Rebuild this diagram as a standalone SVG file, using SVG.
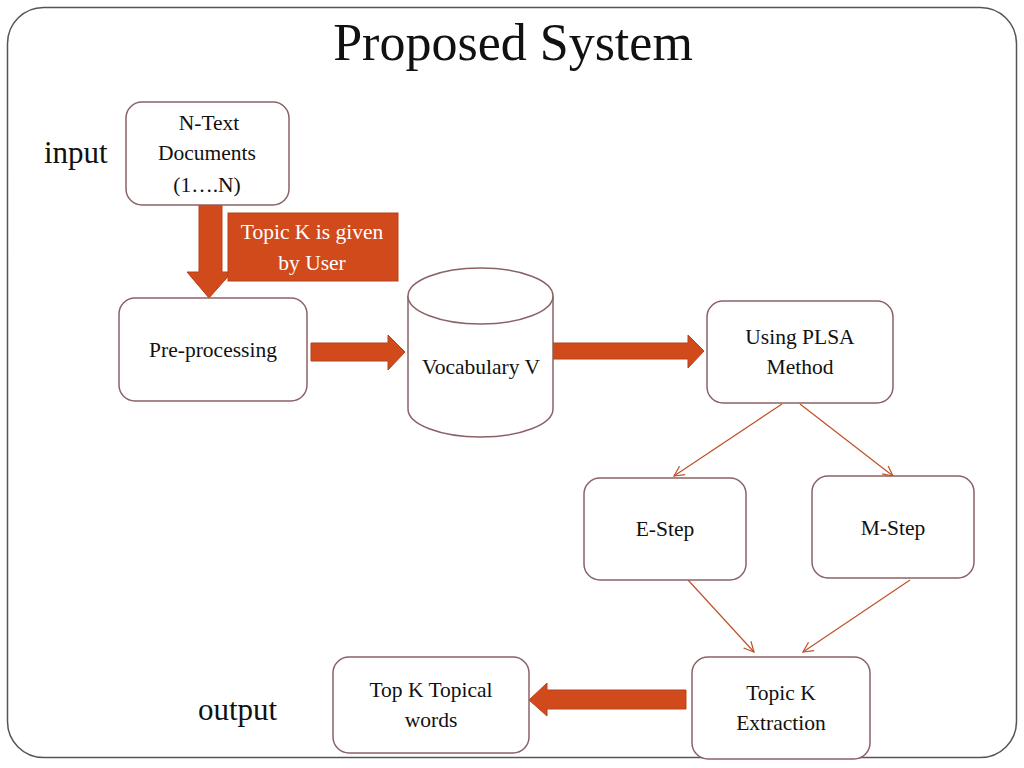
<svg xmlns="http://www.w3.org/2000/svg" width="1024" height="768" viewBox="0 0 1024 768">
<defs>
<style>
.frame{fill:#fff;stroke:#555;stroke-width:1.5}
.box{fill:#fff;stroke:#8a6266;stroke-width:1.5}
.t{font-family:"Liberation Serif","Times New Roman",serif;font-size:21.5px;fill:#111;text-anchor:middle}
.w{fill:#fff}
.big{font-family:"Liberation Serif","Times New Roman",serif;font-size:31px;fill:#111}
.fat{fill:#d04a1c;stroke:#b8401a;stroke-width:1}
.thin{fill:none;stroke:#c0502a;stroke-width:1.2;marker-end:url(#ah)}
</style>
<marker id="ah" viewBox="0 0 12 12" refX="11" refY="6" markerWidth="12" markerHeight="12" markerUnits="userSpaceOnUse" orient="auto">
<path d="M1,1 L11,6 L1,11" fill="none" stroke="#c0502a" stroke-width="1.2"/>
</marker>
</defs>
<rect class="frame" x="7.5" y="7.5" width="1009" height="750" rx="36"/>
<text x="513" y="60" font-family="'Liberation Serif','Times New Roman',serif" font-size="52" fill="#111" text-anchor="middle">Proposed System</text>
<text class="big" x="44" y="163">input</text>
<text class="big" x="198" y="720">output</text>

<g id="connectors">
<path class="fat" d="M199,205 H222 V272 H232 L209,298 L187,272 H199 Z"/>
<path class="fat" d="M311,343 H388 V335 L405,352 L388,370 V361 H311 Z"/>
<path class="fat" d="M553,343 H688 V335 L704,351 L688,368 V359 H553 Z"/>
<path class="fat" d="M686,690 H547 V683 L529,700 L547,716 V709 H686 Z"/>
<line class="thin" x1="782" y1="404" x2="674" y2="476"/>
<line class="thin" x1="800" y1="404" x2="893" y2="476"/>
<line class="thin" x1="688" y1="580" x2="754" y2="652"/>
<line class="thin" x1="910" y1="580" x2="803" y2="652"/>
</g>

<g id="n-text">
<rect class="box" x="126" y="102" width="163" height="103" rx="16"/>
<text class="t" x="209" y="130">N-Text</text>
<text class="t" x="207" y="160">Documents</text>
<text class="t" x="207" y="192">(1….N)</text>
</g>
<g id="topic-given">
<rect class="fat" x="228" y="213" width="170" height="68"/>
<text class="t w" x="312" y="239">Topic K is given</text>
<text class="t w" x="312" y="270">by User</text>
</g>
<g id="preprocessing">
<rect class="box" x="119" y="298" width="188" height="103" rx="16"/>
<text class="t" x="213" y="357">Pre-processing</text>
</g>
<g id="vocabulary">
<path class="box" d="M408,296 V409 A72.5,28 0 0 0 553,409 V296"/>
<ellipse class="box" cx="480.5" cy="296" rx="72.5" ry="28"/>
<text class="t" x="481" y="374">Vocabulary V</text>
</g>
<g id="plsa">
<rect class="box" x="707" y="301" width="186" height="102" rx="16"/>
<text class="t" x="800" y="344">Using PLSA</text>
<text class="t" x="800" y="374">Method</text>
</g>
<g id="estep">
<rect class="box" x="584" y="478" width="162" height="102" rx="16"/>
<text class="t" x="665" y="536">E-Step</text>
</g>
<g id="mstep">
<rect class="box" x="812" y="476" width="162" height="102" rx="16"/>
<text class="t" x="893" y="535">M-Step</text>
</g>
<g id="extraction">
<rect class="box" x="692" y="657" width="178" height="102" rx="16"/>
<text class="t" x="781" y="700">Topic K</text>
<text class="t" x="781" y="730">Extraction</text>
</g>
<g id="topical">
<rect class="box" x="333" y="657" width="196" height="96" rx="16"/>
<text class="t" x="431" y="697">Top K Topical</text>
<text class="t" x="431" y="727">words</text>
</g>
</svg>
